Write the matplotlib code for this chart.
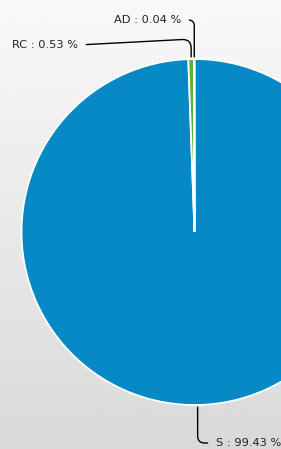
import matplotlib.pyplot as plt
import numpy as np

labels = ['S', 'RC', 'AD']
shares = [99.43, 0.53, 0.04]
colors = ['#0689c5', '#5cb531', '#e8a33a']

W, H = 281, 449
fig = plt.figure(figsize=(W / 100, H / 100), dpi=100)

# light grey vertical gradient behind everything
bg = fig.add_axes([0, 0, 1, 1])
grad = np.linspace(0.85, 0.975, 256).reshape(-1, 1)
bg.imshow(grad, cmap='gray', vmin=0, vmax=1, aspect='auto',
          extent=[0, 1, 0, 1], origin='lower')
bg.axis('off')

ax = fig.add_axes([0, 0, 1, 1])
ax.patch.set_visible(False)
cx, cy, r = 194.5, H - 232, 173
wedges, _ = ax.pie(shares, colors=colors, startangle=90, counterclock=False,
                   center=(cx, cy), radius=r,
                   wedgeprops=dict(edgecolor='white', linewidth=1.3))
ax.set_xlim(0, W)
ax.set_ylim(0, H)
ax.set_aspect('equal')
ax.axis('off')

# label anchor (pixel coords from top-left), alignment, leader start angle, corner radius
label_pos = {'S': (216, 443, 'left', 0, 7),
             'RC': (78, 45, 'right', 3, 9),
             'AD': (181, 20, 'right', 0, 6)}

for w, lab, v in zip(wedges, labels, shares):
    th = np.deg2rad((w.theta1 + w.theta2) / 2)
    xy = (cx + 1.012 * r * np.cos(th), cy + 1.012 * r * np.sin(th))
    tx, ty, ha, angA, rad = label_pos[lab]
    relx = 0 if ha == 'left' else 1
    ax.annotate(f'{lab} : {v:.2f} %', xy=xy, xytext=(tx, H - ty),
                ha=ha, va='center', fontsize=8.2, color='#222222',
                arrowprops=dict(arrowstyle='-', color='black', lw=1,
                                relpos=(relx, 0.5), shrinkA=4, shrinkB=0,
                                connectionstyle=f'angle,angleA={angA},angleB=90,rad={rad}'))

fig.savefig('out.png', dpi=100)
